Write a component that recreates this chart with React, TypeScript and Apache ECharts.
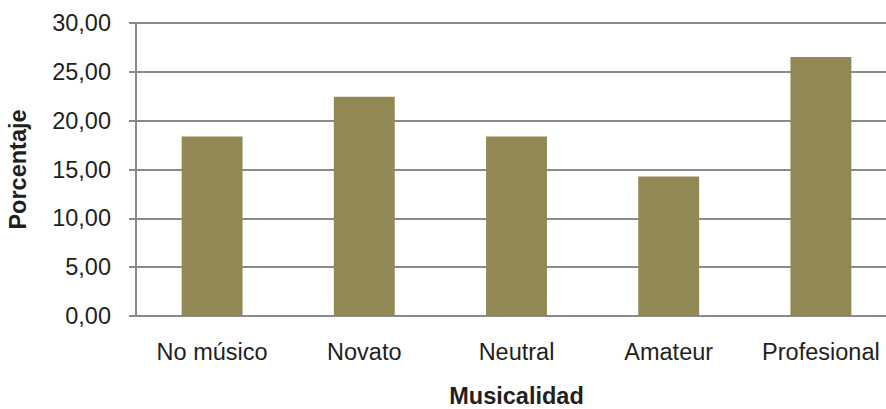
import React, { useEffect, useRef } from "react";
import * as echarts from "echarts";

// Distribution of participants by musicality level (percent)
const categories = ["No músico", "Novato", "Neutral", "Amateur", "Profesional"];
const percentages = [18.37, 22.45, 18.37, 14.29, 26.53];
const yTicks = { min: 0, max: 30, interval: 5 };

const barColor = "#918853";
const lineColor = "#8a8a8a";
const textColor = "#231f20";
const fontFamily = "Arial, 'Liberation Sans', Helvetica, sans-serif";
const fontSize = 23.5;

export default function App() {
  const ref = useRef<HTMLDivElement>(null);

  useEffect(() => {
    if (!ref.current) return;
    const chart = echarts.init(ref.current, null, { renderer: "svg" });
    chart.setOption({
      animation: false,
      backgroundColor: "#ffffff",
      grid: {
        left: 136,
        top: 23,
        width: 761,
        bottom: 93,
        containLabel: false,
        outerBoundsMode: "none",
      },
      xAxis: {
        type: "category",
        data: categories,
        name: "Musicalidad",
        nameLocation: "middle",
        nameGap: 68,
        nameTextStyle: { fontFamily, fontSize, fontWeight: "bold", color: textColor },
        axisLine: { lineStyle: { color: lineColor, width: 2 } },
        axisTick: { show: false },
        axisLabel: {
          fontFamily,
          fontSize,
          color: textColor,
          margin: 24,
          interval: 0,
          hideOverlap: false,
        },
      },
      yAxis: {
        type: "value",
        min: yTicks.min,
        max: yTicks.max,
        interval: yTicks.interval,
        name: "Porcentaje",
        nameLocation: "middle",
        nameGap: 106,
        nameTextStyle: { fontFamily, fontSize, fontWeight: "bold", color: textColor },
        axisLine: { show: true, lineStyle: { color: lineColor, width: 2 } },
        axisTick: { show: true, length: 7, lineStyle: { color: lineColor, width: 2 } },
        splitLine: { lineStyle: { color: lineColor, width: 2 } },
        axisLabel: {
          fontFamily,
          fontSize,
          color: textColor,
          margin: 25,
          formatter: (v: number) => v.toFixed(2).replace(".", ","),
        },
      },
      series: [
        {
          type: "bar",
          data: percentages,
          barWidth: "40%",
          itemStyle: { color: barColor },
        },
      ],
    });
    return () => chart.dispose();
  }, []);

  return (
    <div
      ref={ref}
      style={{ position: "absolute", left: 0, top: 0, width: 886, height: 409 }}
    />
  );
}
